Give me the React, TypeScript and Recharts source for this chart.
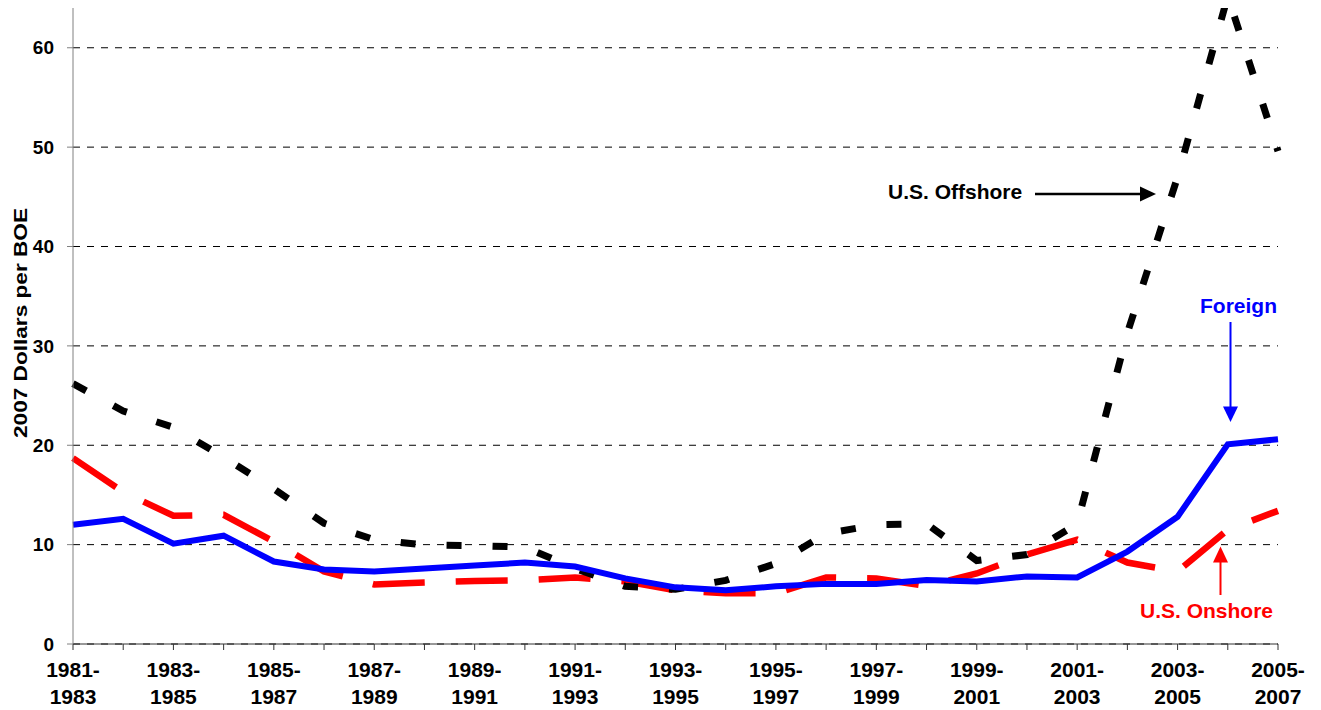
import React from 'react';
import { LineChart, Line, XAxis, YAxis, CartesianGrid, Label } from 'recharts';

const periods = [
  '1981-1983', '1982-1984', '1983-1985', '1984-1986', '1985-1987',
  '1986-1988', '1987-1989', '1988-1990', '1989-1991', '1990-1992',
  '1991-1993', '1992-1994', '1993-1995', '1994-1996', '1995-1997',
  '1996-1998', '1997-1999', '1998-2000', '1999-2001', '2000-2002',
  '2001-2003', '2002-2004', '2003-2005', '2004-2006', '2005-2007',
];

// 2007 dollars per BOE
const foreign = [
  12.0, 12.6, 10.1, 10.9, 8.3, 7.5, 7.3, 7.6, 7.9, 8.2, 7.8, 6.6, 5.7,
  5.4, 5.8, 6.05, 6.05, 6.45, 6.3, 6.8, 6.7, 9.3, 12.8, 20.1, 20.6,
];
const usOnshore = [
  18.7, 15.3, 12.9, 13.0, 10.3, 7.3, 6.0, 6.2, 6.35, 6.4, 6.7, 6.3, 5.4,
  5.1, 5.1, 6.7, 6.6, 5.85, 7.1, 9.0, 10.5, 8.2, 7.3, 11.5, 13.4,
];
const usOffshore = [
  26.2, 23.45, 21.8, 18.8, 15.6, 12.15, 10.5, 9.97, 9.9, 9.75, 7.6, 5.8, 5.5,
  6.4, 8.1, 11.1, 12.0, 12.1, 8.4, 9.0, 12.1, 31.3, 47.0, 65.2, 49.6,
];

const yTicks = [0, 10, 20, 30, 40, 50, 60];

const data = periods.map((period, i) => ({
  period,
  foreign: foreign[i],
  onshore: usOnshore[i],
  offshore: usOffshore[i],
}));

const FONT = '"Liberation Sans", Arial, Helvetica, sans-serif';

const PeriodTick = (props: any) => {
  const { x, y, payload, index } = props;
  if (index % 2 !== 0) return <g />;
  const [from, to] = String(payload.value).split('-');
  return (
    <g transform={`translate(${x},${y})`}>
      <text textAnchor="middle" fontFamily={FONT} fontSize={21} fontWeight={700} fill="#000">
        <tspan x={0} dy={25}>{from}-</tspan>
        <tspan x={0} dy={26.7}>{to}</tspan>
      </text>
    </g>
  );
};

const YTitle = (props: any) => {
  const vb = props.viewBox || { x: 0, y: 8, width: 73, height: 636 };
  const cx = 27;
  const cy = vb.y + vb.height / 2 - 3;
  return (
    <text
      x={cx}
      y={cy}
      transform={`rotate(-90 ${cx} ${cy})`}
      textAnchor="middle"
      fontFamily={FONT}
      fontSize={18}
      fontWeight={700}
      fill="#000"
      textLength={230}
      lengthAdjust="spacingAndGlyphs"
    >
      2007 Dollars per BOE
    </text>
  );
};

// callouts for the three series
const Annotations = () => (
  <svg
    width={1321}
    height={710}
    style={{ position: 'absolute', left: 0, top: 0, pointerEvents: 'none' }}
  >
    <g fontFamily={FONT} fontSize={21} fontWeight={700}>
      <text x={888} y={199} fill="#000">U.S. Offshore</text>
      <line x1={1035} y1={194} x2={1142} y2={194} stroke="#000" strokeWidth={2.5} />
      <polygon points="1156,194 1140,186.5 1140,201.5" fill="#000" />

      <text x={1200} y={313} fill="#0000ff">Foreign</text>
      <line x1={1230.5} y1={322} x2={1230.5} y2={408} stroke="#0000ff" strokeWidth={2} />
      <polygon points="1230.5,422 1223,406.5 1238,406.5" fill="#0000ff" />

      <text x={1140} y={618} fill="#ff0000">U.S. Onshore</text>
      <line x1={1220.5} y1={595} x2={1220.5} y2={560} stroke="#ff0000" strokeWidth={2} />
      <polygon points="1220.5,546.5 1213,562.5 1228,562.5" fill="#ff0000" />
    </g>
  </svg>
);

export default function App() {
  return (
    <div style={{ position: 'absolute', left: 0, top: 0, width: 1321, height: 710, background: '#fff' }}>
      <LineChart
        width={1321}
        height={710}
        data={data}
        margin={{ top: 8, right: 43, bottom: 0, left: 0 }}
      >
        <CartesianGrid
          vertical={false}
          horizontalValues={yTicks}
          stroke="#000"
          strokeDasharray="7 7"
        />
        <XAxis
          dataKey="period"
          interval={0}
          height={66}
          tick={<PeriodTick />}
          tickSize={6}
          tickMargin={2}
          axisLine={{ stroke: '#333' }}
          tickLine={{ stroke: '#333' }}
        />
        <YAxis
          width={73}
          domain={[0, 64]}
          ticks={yTicks}
          allowDataOverflow
          tickSize={6}
          tickMargin={13}
          axisLine={{ stroke: '#808080' }}
          tickLine={{ stroke: '#808080' }}
          tick={{ fontSize: 19, fontWeight: 700, fill: '#000', fontFamily: FONT }}
        >
          <Label content={<YTitle />} />
        </YAxis>
        <Line
          type="linear"
          dataKey="onshore"
          stroke="#ff0000"
          strokeWidth={6.5}
          strokeDasharray="52 31"
          dot={false}
          activeDot={false}
          isAnimationActive={false}
        />
        <Line
          type="linear"
          dataKey="offshore"
          stroke="#000"
          strokeWidth={7}
          strokeDasharray="15 31"
          dot={false}
          activeDot={false}
          isAnimationActive={false}
        />
        <Line
          type="linear"
          dataKey="foreign"
          stroke="#0000ff"
          strokeWidth={6}
          dot={false}
          activeDot={false}
          isAnimationActive={false}
        />
      </LineChart>
      <Annotations />
    </div>
  );
}
